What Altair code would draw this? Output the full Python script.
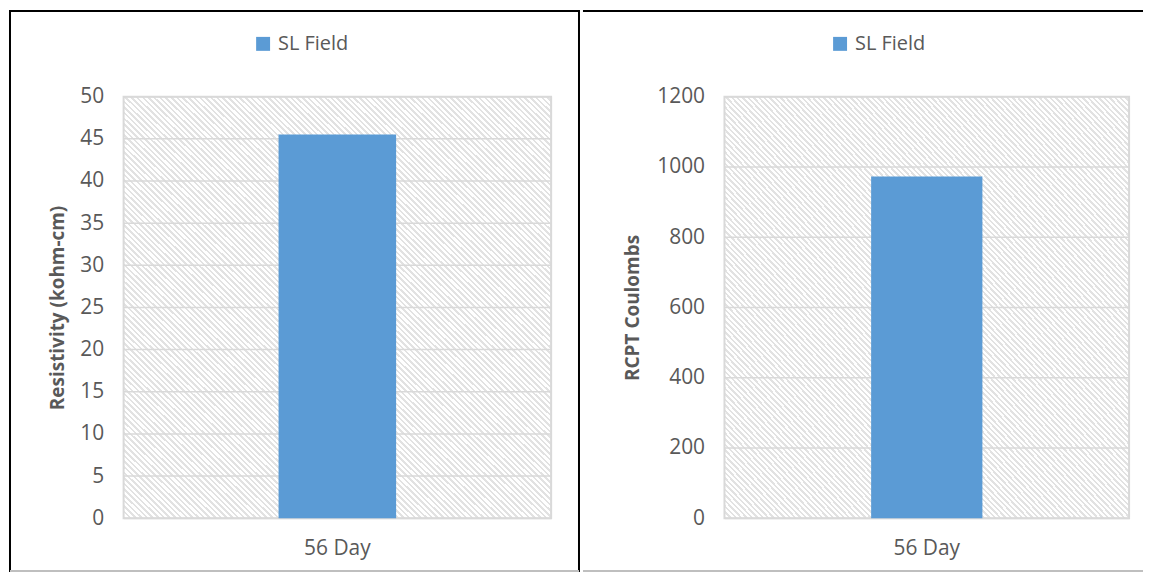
import altair as alt
import pandas as pd

categories = ["56 Day"]
series_name = ["SL Field"]
resistivity = [45.5]
rcpt = [973]
res_ticks = [0, 5, 10, 15, 20, 25, 30, 35, 40, 45, 50]
rcpt_ticks = [0, 200, 400, 600, 800, 1000, 1200]

BLUE = "#5b9bd5"
TXT = "#595959"
GRID = "#d9d9d9"
FONT = "Open Sans"

# diagonal hatch for the plot background, done as a hard-stop linear gradient
n_stripes = 150
stops = []
for i in range(n_stripes):
    a = i / n_stripes
    b = (i + 0.45) / n_stripes
    c = (i + 1) / n_stripes
    stops.append({"offset": round(a, 5), "color": "#e2e2e2"})
    stops.append({"offset": round(b, 5), "color": "#e2e2e2"})
    stops.append({"offset": round(b, 5), "color": "#ffffff"})
    stops.append({"offset": round(min(c, 1.0), 5), "color": "#ffffff"})
hatch = {"gradient": "linear", "x1": 0, "y1": 1, "x2": 1, "y2": 0, "stops": stops}


def panel(values, ticks, ytitle, ymax, width, height, legend_x, title_x,
          frame_left, frame_right, frame_top, frame_bottom, left_border):
    df = pd.DataFrame({"cat": categories, "val": values, "series": series_name})
    tdf = pd.DataFrame({"t": ticks})
    base = alt.Chart(df)
    yscale = alt.Scale(domain=[0, ymax], nice=False)
    yaxis = alt.Axis(values=ticks, format="d",
                     ticks=False, domain=False, grid=False,
                     labelPadding=20, labelFontSize=21,
                     labelColor=TXT, labelFont=FONT,
                     titleFont=FONT, titleFontSize=19,
                     titleFontWeight="bold", titleColor=TXT,
                     titleX=title_x, titleY=height / 2,
                     titleBaseline="middle")

    bg = base.mark_rect(fill=hatch, strokeWidth=0).encode(
        x=alt.value(0), x2=alt.value(width), y=alt.value(0), y2=alt.value(height))

    grid = alt.Chart(tdf).mark_rule(color=GRID, strokeWidth=1.5).encode(
        y=alt.Y("t:Q", scale=yscale, title=ytitle, axis=yaxis),
        x=alt.value(0), x2=alt.value(width))

    border = base.mark_rect(fillOpacity=0, stroke=GRID, strokeWidth=2).encode(
        x=alt.value(0), x2=alt.value(width), y=alt.value(0), y2=alt.value(height))

    bars = base.mark_bar(size=width * 0.275).encode(
        x=alt.X("cat:N", title=None,
                axis=alt.Axis(labelAngle=0, ticks=False, domain=False,
                              labelPadding=19, labelFontSize=21,
                              labelColor=TXT, labelFont=FONT)),
        y=alt.Y("val:Q", title=ytitle, scale=yscale, axis=yaxis),
        color=alt.Color("series:N", title=None,
                        scale=alt.Scale(range=[BLUE]),
                        legend=alt.Legend(orient="none", legendX=legend_x,
                                          legendY=-63, symbolType="square",
                                          symbolSize=196, symbolStrokeWidth=0,
                                          labelFontSize=20, labelColor=TXT,
                                          labelFont=FONT, labelOffset=5)),
    )
    layers = [bg, grid, border, bars]
    if left_border:
        frame = base.mark_rect(fillOpacity=0, stroke="black", strokeWidth=2).encode(
            x=alt.value(frame_left), x2=alt.value(frame_right),
            y=alt.value(frame_top), y2=alt.value(frame_bottom))
        layers.append(frame)
    else:
        top = base.mark_rule(color="black", strokeWidth=2).encode(
            x=alt.value(frame_left), x2=alt.value(frame_right),
            y=alt.value(frame_top))
        layers.append(top)
    bottom = base.mark_rule(color="#bfbfbf", strokeWidth=2).encode(
        x=alt.value(frame_left), x2=alt.value(frame_right),
        y=alt.value(frame_bottom))
    layers.append(bottom)
    return alt.layer(*layers).properties(width=width, height=height)


left = panel(resistivity, res_ticks, "Resistivity (kohm-cm)", 50, 429, 423, 130, -66,
             -114, 457, -86, 476, True)
right = panel(rcpt, rcpt_ticks, "RCPT Coulombs", 1200, 406, 423, 106, -92,
              -142, 420, -86, 476, False)

chart = alt.hconcat(left, right, spacing=0).resolve_scale(
    color="independent", y="independent"
).resolve_legend(color="independent").properties(padding=0).configure_view(
    stroke=None
).configure(font=FONT)

chart.save("out.html", embed_options={"renderer": "svg", "actions": False})
